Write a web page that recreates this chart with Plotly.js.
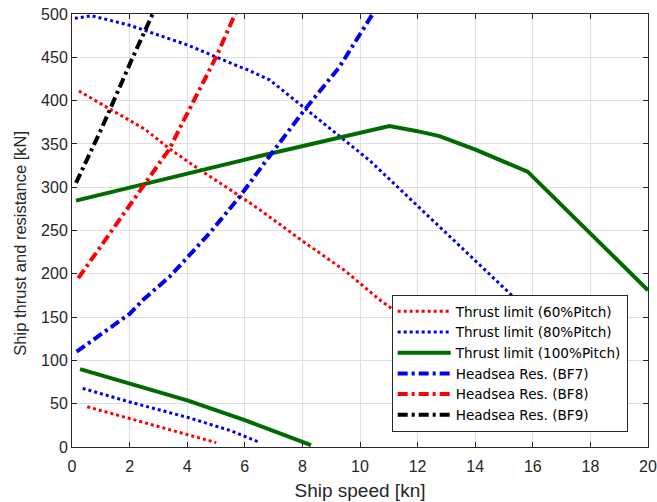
<!DOCTYPE html>
<html>
<head>
<meta charset="utf-8">
<script src="https://cdn.plot.ly/plotly-3.0.1.min.js"></script>
<style>html,body{margin:0;padding:0;background:#fff;}#chart{width:657px;height:502px;}</style>
</head>
<body>
<div id="chart"></div>
<script>
// Thrust limit, 60% pitch (upper and lower branches)
var speed60Upper = [0.24, 1.32, 2.53, 3.4, 4.44, 5.82, 6.52, 8.0, 9.5, 10.68, 12.0];
var thrust60Upper = [411, 390, 367, 344, 320, 290, 274, 238, 203, 170, 138];
var speed60Lower = [0.53, 2.0, 3.5, 5.01];
var thrust60Lower = [46.5, 33, 19, 5];

// Thrust limit, 80% pitch
var speed80Upper = [0.1, 0.68, 2.0, 3.74, 4.03, 5.82, 6.0, 6.86, 8.02, 9.17, 10.33, 10.68, 12.0, 13.5, 15.18, 16.0];
var thrust80Upper = [495, 498, 487, 468, 464, 439, 437, 424, 393, 362, 331, 320, 278, 231, 178, 152];
var speed80Lower = [0.37, 2.0, 4.03, 5.5, 6.46];
var thrust80Lower = [67.7, 52, 34, 19, 6];

// Thrust limit, 100% pitch
var speed100Upper = [0.14, 6.52, 11.02, 11.95, 12.76, 14.03, 15.82, 20.0];
var thrust100Upper = [284.5, 336, 370.5, 365, 359, 343, 318, 181];
var speed100Lower = [0.28, 2.01, 4.03, 6.0, 8.3];
var thrust100Lower = [90, 73.5, 53.5, 31, 2.3];

// Head-sea resistance
var speedBF7 = [0.16, 2.01, 2.47, 3.4, 4.78, 5.82, 6.75, 8.02, 9.29, 10.44];
var resBF7 = [110, 154, 170, 197, 247, 289, 331, 387, 439, 500];
var speedBF8 = [0.22, 2.53, 3.4, 3.74, 5.01, 5.65, 5.8];
var resBF8 = [195, 304.5, 345, 368, 450.7, 499, 510];
var speedBF9 = [0.14, 1.03, 2.07, 2.8];
var resBF9 = [305, 368, 447, 500];

var labels = ['Thrust limit (60%Pitch)', 'Thrust limit (80%Pitch)', 'Thrust limit (100%Pitch)',
              'Headsea Res. (BF7)', 'Headsea Res. (BF8)', 'Headsea Res. (BF9)'];
var xTicks = [0, 2, 4, 6, 8, 10, 12, 14, 16, 18, 20];
var yTicks = [0, 50, 100, 150, 200, 250, 300, 350, 400, 450, 500];
var xTitle = 'Ship speed [kn]';
var yTitle = 'Ship thrust and resistance [kN]';

var red = '#ff0000', blue = '#0000ee', green = '#006b00', black = '#000000';
var dashDot = '10px,4px,3px,4px';

function tr(x, y, name, color, dash, width, show, group) {
  return {x: x, y: y, type: 'scatter', mode: 'lines', name: name, legendgroup: group,
          showlegend: show, line: {color: color, dash: dash, width: width}, hoverinfo: 'skip'};
}

var data = [
  tr(speed60Upper, thrust60Upper, labels[0], red, 'dot', 3, true, 'g60'),
  tr(speed80Upper, thrust80Upper, labels[1], blue, 'dot', 3, true, 'g80'),
  tr(speed100Upper, thrust100Upper, labels[2], green, 'solid', 4, true, 'g100'),
  tr(speedBF7, resBF7, labels[3], blue, dashDot, 4, true, 'bf7'),
  tr(speedBF8, resBF8, labels[4], red, dashDot, 4, true, 'bf8'),
  tr(speedBF9, resBF9, labels[5], black, dashDot, 4, true, 'bf9'),
  tr(speed60Lower, thrust60Lower, labels[0], red, 'dot', 3, false, 'g60'),
  tr(speed80Lower, thrust80Lower, labels[1], blue, 'dot', 3, false, 'g80'),
  tr(speed100Lower, thrust100Lower, labels[2], green, 'solid', 4, false, 'g100')
];

var font = 'Liberation Sans, Arial, Helvetica, sans-serif';
var axisCommon = {
  showline: true, linecolor: '#262626', linewidth: 1, mirror: 'ticks',
  ticks: 'inside', ticklen: 5, tickcolor: '#262626', tickwidth: 1,
  showgrid: true, gridcolor: '#dedede', gridwidth: 1, zeroline: false,
  tickfont: {family: font, size: 16, color: '#262626'}, automargin: false
};

var layout = {
  width: 657, height: 502,
  margin: {l: 72, r: 9, t: 14, b: 55},
  paper_bgcolor: '#ffffff', plot_bgcolor: '#ffffff',
  font: {family: font, color: '#262626'},
  showlegend: true,
  xaxis: Object.assign({}, axisCommon, {
    range: [0, 20], tickvals: xTicks, ticktext: xTicks.map(String), ticklabelstandoff: 5,
    title: {text: xTitle, font: {family: font, size: 19, color: '#262626'}, standoff: 9}
  }),
  yaxis: Object.assign({}, axisCommon, {
    range: [0, 500], tickvals: yTicks, ticktext: yTicks.map(String)
  }),
  annotations: [{
    text: yTitle, xref: 'paper', yref: 'paper', x: -0.09, y: 0.47,
    xanchor: 'center', yanchor: 'middle', textangle: -90, showarrow: false,
    font: {family: font, size: 16.5, color: '#262626'}
  }],
  legend: {
    x: 0.555, y: 0.351, xanchor: 'left', yanchor: 'top',
    bgcolor: '#ffffff', bordercolor: '#262626', borderwidth: 1,
    font: {family: 'DejaVu Sans, sans-serif', size: 13.6, color: '#000000'},
    itemwidth: 53, tracegroupgap: 0, traceorder: 'normal'
  }
};

Plotly.newPlot('chart', data, layout, {staticPlot: true, displayModeBar: false});
</script>
</body>
</html>
